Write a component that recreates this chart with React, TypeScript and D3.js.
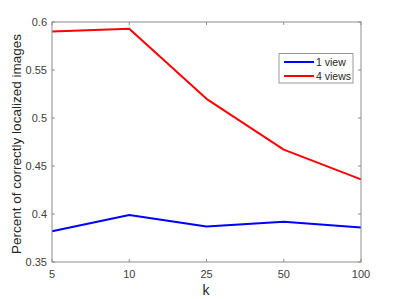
import React from "react";
import * as d3 from "d3";

const categories = ["5", "10", "25", "50", "100"];
const oneView = [0.382, 0.399, 0.387, 0.392, 0.386];
const fourViews = [0.59, 0.593, 0.52, 0.467, 0.436];
const yTicks = [0.35, 0.4, 0.45, 0.5, 0.55, 0.6];
const yTickLabels = ["0.35", "0.4", "0.45", "0.5", "0.55", "0.6"];
const seriesNames = ["1 view", "4 views"];
const seriesColors = ["#0000ff", "#ff0000"];

const W = 399, H = 299;
const L = 52, R = 361, T = 22, B = 262;

export default function App() {
  const x = d3.scalePoint<string>().domain(categories).range([L, R]);
  const y = d3.scaleLinear().domain([0.35, 0.6]).range([B, T]);
  const line = d3
    .line<number>()
    .x((_, i) => x(categories[i]) as number)
    .y((d) => y(d));
  const series = [oneView, fourViews];
  const axisColor = "#8c8c8c";
  const textColor = "#404040";
  const font = "Liberation Sans, Arial, sans-serif";
  return (
    <svg width={W} height={H} style={{ position: "absolute", left: 0, top: 0, background: "#fff" }} fontFamily={font}>
      <rect x={0} y={0} width={W} height={H} fill="#fff" />
      {series.map((s, i) => (
        <path key={i} d={line(s) || ""} fill="none" stroke={seriesColors[i]} strokeWidth={2} strokeLinejoin="round" />
      ))}
      <rect x={L} y={T} width={R - L} height={B - T} fill="none" stroke={axisColor} strokeWidth={1} />
      {categories.map((c) => {
        const px = x(c) as number;
        return (
          <g key={c}>
            <line x1={px} x2={px} y1={B} y2={B - 3} stroke={axisColor} />
            <line x1={px} x2={px} y1={T} y2={T + 3} stroke={axisColor} />
            <text x={px} y={278} textAnchor="middle" fontSize={11} fill={textColor}>{c}</text>
          </g>
        );
      })}
      {yTicks.map((t, i) => {
        const py = y(t);
        return (
          <g key={t}>
            <line x1={L} x2={L + 3} y1={py} y2={py} stroke={axisColor} />
            <line x1={R} x2={R - 3} y1={py} y2={py} stroke={axisColor} />
            <text x={47} y={py + 4} textAnchor="end" fontSize={11} fill={textColor}>{yTickLabels[i]}</text>
          </g>
        );
      })}
      <text x={206} y={295} textAnchor="middle" fontSize={14} fill="#262626">k</text>
      <text transform={`translate(21,${144}) rotate(-90)`} textAnchor="middle" fontSize={13.5} fill="#262626">
        Percent of correctly localized images
      </text>
      <rect x={279} y={53.5} width={74} height={29.5} fill="#fff" stroke="#999" strokeWidth={1} />
      {seriesNames.map((n, i) => (
        <g key={n}>
          <line x1={284} x2={314} y1={62 + i * 14} y2={62 + i * 14} stroke={seriesColors[i]} strokeWidth={2} />
          <text x={316} y={65.8 + i * 14} fontSize={10.5} fill="#262626">{n}</text>
        </g>
      ))}
    </svg>
  );
}
